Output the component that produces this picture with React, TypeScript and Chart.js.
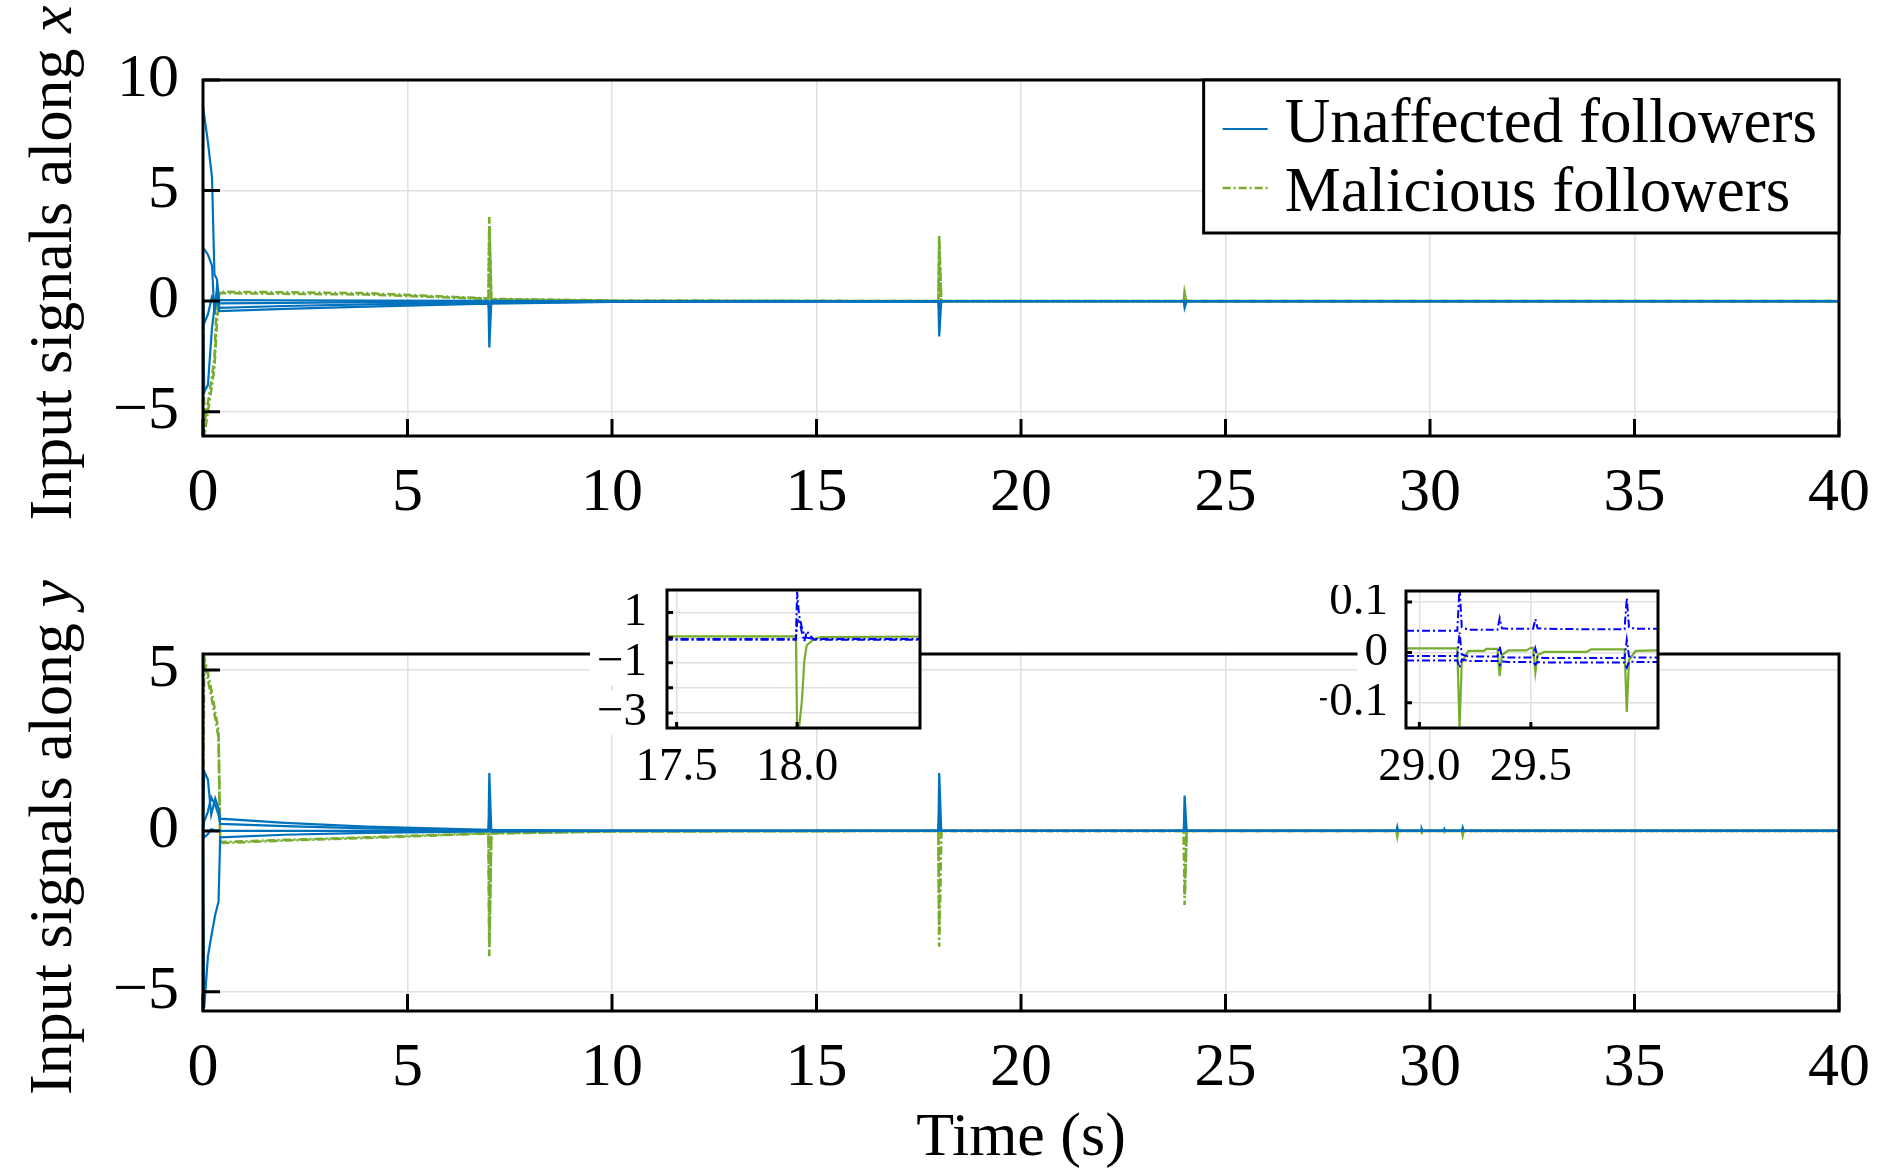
import React, { useEffect, useRef } from 'react';
import { Chart, registerables } from 'chart.js';

Chart.register(...registerables);

const SERIF = '"Liberation Serif", "Times New Roman", serif';
const BLUE = '#0072BD';
const GREEN = '#77AC30';
const INSET_BLUE = '#0000FF';
const GRID = '#e0e0e0';
const DASH_DOT = [8, 3, 2, 3];

// ---- top panel: input signals along x ----
const timeX = [0, 0.03, 0.12, 0.22, 0.28, 0.34, 0.4, 2, 4, 6.98, 7.0, 7.05, 10, 17.98, 18.0, 18.05, 23.98, 24.0, 24.05, 40];
const unaffectedX1 = [8.75, 8.4, 7.2, 5.6, 1.2, 1.0, -0.1, -0.08, -0.05, -0.03, -2.1, -0.03, -0.01, 0, -1.6, 0, 0, -0.3, 0, 0];
const unaffectedX2 = [2.3, 2.35, 2.1, 1.6, -0.6, 0.6, -0.3, -0.22, -0.15, -0.08, -0.3, -0.08, -0.02, 0, -0.2, 0, 0, 0, 0, 0];
const unaffectedX3 = [0, -4.1, -3.8, -1.2, -0.3, 0.2, -0.45, -0.35, -0.25, -0.12, -0.4, -0.12, -0.03, 0, -0.3, 0, 0, -0.1, 0, 0];
const unaffectedX4 = [0, -1.0, -0.6, 0.2, 0.0, -0.1, 0.05, 0.04, 0.02, 0.01, -0.5, 0.01, 0, 0, -0.4, 0, 0, 0, 0, 0];
const maliciousX1 = [0, -6.1, -5.0, -3.8, -3.0, -1.0, 0.42, 0.4, 0.36, 0.12, 3.8, 0.1, 0.03, 0, 3.0, 0, 0, 0.4, 0, 0];
const maliciousX2 = [0, -5.6, -4.6, -3.4, -2.6, 0.2, 0.36, 0.33, 0.3, 0.1, 3.4, 0.08, 0.02, 0, 2.6, 0, 0, 0.3, 0, 0];

// ---- bottom panel: input signals along y ----
const timeY = [0, 0.03, 0.12, 0.2, 0.3, 0.38, 0.42, 2, 4, 6.98, 7.0, 7.05, 10, 17.98, 18.0, 18.05, 23.98, 24.0, 24.05, 29.18, 29.2, 29.22, 29.78, 29.8, 29.82, 30.33, 30.35, 30.37, 30.78, 30.8, 30.82, 40];
const unaffectedY1 = [0, -5.5, -3.9, -3.3, -2.6, -2.2, -0.2, -0.12, -0.06, -0.02, 1.8, -0.02, 0, 0, 1.8, 0, 0, 1.1, 0, 0, 0.12, 0, 0, 0.06, 0, 0, 0.06, 0, 0, 0.1, 0, 0];
const unaffectedY2 = [0, 1.85, 1.6, 0.5, 1.0, 0.7, 0.38, 0.25, 0.13, 0.03, 0.5, 0.03, 0.01, 0, 0.6, 0, 0, 0.3, 0, 0, 0.05, 0, 0, 0.02, 0, 0, 0.02, 0, 0, 0.04, 0, 0];
const unaffectedY3 = [0, 0.3, 0.6, 1.05, 0.8, 0.5, 0.22, 0.15, 0.08, 0.02, 0.2, 0.02, 0, 0, 0.3, 0, 0, 0.1, 0, 0, 0.02, 0, 0, 0.01, 0, 0, 0.01, 0, 0, 0.02, 0, 0];
const unaffectedY4 = [0, -0.2, -0.1, 0.05, 0.02, 0, 0, 0, 0, 0, 0.1, 0, 0, 0, 0.1, 0, 0, 0, 0, 0, 0, 0, 0, 0, 0, 0, 0, 0, 0, 0, 0, 0];
const maliciousY1 = [5.5, 5.4, 4.9, 4.4, 3.7, 3.1, -0.38, -0.3, -0.22, -0.08, -3.9, -0.08, -0.02, 0, -3.6, 0, 0, -2.3, 0, 0, -0.15, 0, 0, -0.05, 0, 0, -0.04, 0, 0, -0.12, 0, 0];
const maliciousY2 = [0, 5.3, 4.7, 4.2, 3.5, 2.9, -0.35, -0.28, -0.2, -0.07, -3.5, -0.07, -0.02, 0, -3.2, 0, 0, -2.0, 0, 0, -0.1, 0, 0, -0.03, 0, 0, -0.03, 0, 0, -0.08, 0, 0];

// ---- inset around t = 18 s ----
const timeInset1 = [17.45, 17.995, 18.0, 18.008, 18.02, 18.03, 18.04, 18.07, 18.1, 18.55];
const inset1Green = [0.05, 0.05, -3.6, -3.6, -2.5, -0.9, -0.3, -0.05, 0.02, 0.05];
const inset1Blue1 = [-0.05, -0.05, 1.83, 0.9, 0.4, 0.1, 0.0, -0.05, -0.05, -0.05];
const inset1Blue2 = [-0.08, -0.08, 0.6, 0.75, 0.2, -0.15, 0.25, -0.08, -0.08, -0.08];

// ---- inset around t = 29.5 s ----
const timeInset2 = [28.94, 29.17, 29.18, 29.19, 29.22, 29.29, 29.3, 29.35, 29.36, 29.37, 29.4, 29.48, 29.5, 29.51, 29.52, 29.53, 29.56, 29.75, 29.77, 29.92, 29.93, 29.94, 29.97, 30.07];
const inset2Green = [0.008, 0.008, -0.15, -0.02, 0.003, 0.003, 0.007, 0.007, -0.047, -0.005, 0.004, 0.004, 0.009, 0.009, -0.04, -0.005, 0.001, 0.001, 0.006, 0.006, -0.118, -0.015, 0.003, 0.004];
const inset2Blue1 = [0.043, 0.043, 0.13, 0.05, 0.045, 0.045, 0.045, 0.045, 0.068, 0.048, 0.047, 0.047, 0.047, 0.047, 0.066, 0.048, 0.047, 0.046, 0.046, 0.046, 0.108, 0.05, 0.047, 0.047];
const inset2Blue2 = [-0.007, -0.007, 0.04, -0.004, -0.008, -0.008, -0.008, -0.008, 0.012, -0.009, -0.01, -0.01, -0.01, -0.01, 0.008, -0.01, -0.011, -0.011, -0.011, -0.011, 0.025, -0.008, -0.01, -0.01];
const inset2Blue3 = [-0.016, -0.016, -0.03, -0.014, -0.017, -0.017, -0.017, -0.017, -0.025, -0.018, -0.019, -0.019, -0.019, -0.019, -0.024, -0.019, -0.02, -0.02, -0.02, -0.02, -0.03, -0.018, -0.019, -0.019];

// tick values
const timeTicks = [0, 5, 10, 15, 20, 25, 30, 35, 40];
const topYTicks = [-5, 0, 5, 10];
const bottomYTicks = [-5, 0, 5];
const inset1XTicks = [17.5, 18.0];
const inset1YTicks = [-3, -2, -1, 0, 1];
const inset2XTicks = [29.0, 29.5];
const inset2YTicks = [-0.1, 0, 0.1];

const minus = (v: number | string) => String(v).replace('-', '\u2212');
const series = (t: number[], y: number[]) => t.map((x, i) => ({ x, y: y[i] }));
const setTicks = (vals: number[]) => (s: any) => { s.ticks = vals.map((value) => ({ value })); };

// white plot area, black box and inward tick marks
const framePlugin = {
  id: 'frame',
  beforeDraw(chart: any, _a: any, opts: any) {
    if (!opts.fill) return;
    const { left, top, width, height } = chart.chartArea;
    chart.ctx.save();
    chart.ctx.fillStyle = '#fff';
    chart.ctx.fillRect(left, top, width, height);
    chart.ctx.restore();
  },
  afterDatasetsDraw(chart: any, _a: any, opts: any) {
    const { left, top, right, bottom } = chart.chartArea;
    const ctx = chart.ctx;
    const len = opts.tickLength || 0;
    ctx.save();
    ctx.strokeStyle = '#000';
    ctx.lineWidth = 3;
    ctx.beginPath();
    chart.scales.x.ticks.forEach((tk: any) => {
      const px = chart.scales.x.getPixelForValue(tk.value);
      ctx.moveTo(px, bottom);
      ctx.lineTo(px, bottom - len);
    });
    chart.scales.y.ticks.forEach((tk: any) => {
      const py = chart.scales.y.getPixelForValue(tk.value);
      ctx.moveTo(left, py);
      ctx.lineTo(left + len, py);
    });
    ctx.stroke();
    ctx.strokeRect(left, top, right - left, bottom - top);
    ctx.restore();
  },
};

// rotated y title with italic last letter
const yTitlePlugin = {
  id: 'yTitle',
  afterDraw(chart: any, _a: any, opts: any) {
    if (!opts.text) return;
    const ctx = chart.ctx;
    const { top, bottom } = chart.chartArea;
    const normal = `62px ${SERIF}`;
    const italic = `italic 62px ${SERIF}`;
    ctx.save();
    ctx.translate(opts.x, (top + bottom) / 2 + opts.shift);
    ctx.rotate(-Math.PI / 2);
    ctx.fillStyle = '#000';
    ctx.textBaseline = 'alphabetic';
    ctx.font = normal;
    const w1 = ctx.measureText(opts.text).width;
    ctx.font = italic;
    const w2 = ctx.measureText(opts.italic).width;
    const x0 = -(w1 + w2) / 2;
    ctx.font = normal;
    ctx.fillText(opts.text, x0, 0);
    ctx.font = italic;
    ctx.fillText(opts.italic, x0 + w1, 0);
    ctx.restore();
  },
};

// boxed legend in the upper right corner
const boxLegendPlugin = {
  id: 'boxLegend',
  afterDraw(chart: any, _a: any, opts: any) {
    if (!opts.display) return;
    const ctx = chart.ctx;
    const { right, top } = chart.chartArea;
    const items: any[] = [];
    chart.data.datasets.forEach((ds: any) => {
      if (!items.find((it) => it.label === ds.label)) items.push(ds);
    });
    ctx.save();
    ctx.font = `63px ${SERIF}`;
    const textW = Math.max(...items.map((it) => ctx.measureText(it.label).width));
    const w = 81 + textW + 22;
    const h = 153;
    const left = right - w;
    ctx.fillStyle = '#fff';
    ctx.fillRect(left, top, w, h);
    ctx.strokeStyle = '#000';
    ctx.lineWidth = 3;
    ctx.strokeRect(left, top, w, h);
    items.forEach((it, i) => {
      const yLine = top + 49 + i * 59;
      ctx.beginPath();
      ctx.setLineDash(it.borderDash || []);
      ctx.strokeStyle = it.borderColor;
      ctx.lineWidth = it.borderWidth;
      ctx.moveTo(left + 19, yLine);
      ctx.lineTo(left + 64, yLine);
      ctx.stroke();
      ctx.setLineDash([]);
      ctx.fillStyle = '#000';
      ctx.textBaseline = 'alphabetic';
      ctx.fillText(it.label, left + 81, top + 62 + i * 69);
    });
    ctx.restore();
  },
};

function mainChart(canvas: HTMLCanvasElement, cfg: any) {
  const blues = cfg.blues.map((y: number[]) => ({
    label: 'Unaffected followers',
    data: series(cfg.time, y),
    borderColor: BLUE,
    borderWidth: 2.2,
    pointRadius: 0,
  }));
  const greens = cfg.greens.map((y: number[]) => ({
    label: 'Malicious followers',
    data: series(cfg.time, y),
    borderColor: GREEN,
    borderWidth: 2.6,
    borderDash: DASH_DOT,
    pointRadius: 0,
  }));
  return new Chart(canvas, {
    type: 'line',
    data: { datasets: [...blues, ...greens] },
    options: {
      animation: false,
      responsive: false,
      devicePixelRatio: 1,
      events: [],
      layout: { padding: { top: cfg.padTop, right: 51, left: 0, bottom: 0 } },
      plugins: {
        legend: { display: false },
        tooltip: { enabled: false },
        frame: { tickLength: 17 },
        yTitle: { text: 'Input signals along ', italic: cfg.axis, x: 71, shift: 5 },
        boxLegend: { display: cfg.legend },
      } as any,
      scales: {
        x: {
          type: 'linear',
          min: 0,
          max: 40,
          afterBuildTicks: setTicks(timeTicks),
          afterFit: (s: any) => { s.height = cfg.xHeight; s.paddingLeft = 0; s.paddingRight = 0; },
          grid: { color: GRID, lineWidth: 1.5, drawTicks: false },
          border: { display: false },
          ticks: { font: { family: SERIF, size: 62 }, color: '#000', padding: 21, maxRotation: 0, autoSkip: false },
          title: {
            display: !!cfg.xTitle,
            text: cfg.xTitle || '',
            color: '#000',
            font: { family: SERIF, size: 62, lineHeight: 1 },
            padding: { top: 0, bottom: 3 },
          },
        },
        y: {
          type: 'linear',
          min: cfg.yMin,
          max: cfg.yMax,
          afterBuildTicks: setTicks(cfg.yTicks),
          afterFit: (s: any) => { s.width = 203; s.paddingTop = 0; s.paddingBottom = 0; },
          grid: { color: GRID, lineWidth: 1.5, drawTicks: false },
          border: { display: false },
          ticks: { font: { family: SERIF, size: 62 }, color: '#000', padding: 24, callback: (v: any) => minus(v) },
        },
      },
    },
    plugins: [framePlugin, yTitlePlugin, boxLegendPlugin],
  });
}

function insetChart(canvas: HTMLCanvasElement, cfg: any) {
  const datasets = [
    ...cfg.blues.map((y: number[]) => ({
      data: series(cfg.time, y),
      borderColor: INSET_BLUE,
      borderWidth: 2,
      borderDash: DASH_DOT,
      pointRadius: 0,
    })),
    {
      data: series(cfg.time, cfg.green),
      borderColor: GREEN,
      borderWidth: 2.2,
      pointRadius: 0,
    },
  ];
  return new Chart(canvas, {
    type: 'line',
    data: { datasets },
    options: {
      animation: false,
      responsive: false,
      devicePixelRatio: 1,
      events: [],
      layout: { padding: { top: cfg.padTop, right: 5, left: 0, bottom: 0 } },
      plugins: {
        legend: { display: false },
        tooltip: { enabled: false },
        frame: { fill: true, tickLength: 6 },
      } as any,
      scales: {
        x: {
          type: 'linear',
          min: cfg.xMin,
          max: cfg.xMax,
          afterBuildTicks: setTicks(cfg.xTicks),
          afterFit: (s: any) => { s.height = 72; s.paddingLeft = 0; s.paddingRight = 0; },
          grid: { color: GRID, lineWidth: 1.5, drawTicks: false },
          border: { display: false },
          ticks: {
            font: { family: SERIF, size: 47 },
            color: '#000',
            padding: 11,
            maxRotation: 0,
            autoSkip: false,
            callback: (v: any) => Number(v).toFixed(1),
          },
        },
        y: {
          type: 'linear',
          min: cfg.yMin,
          max: cfg.yMax,
          afterBuildTicks: setTicks(cfg.yTicks),
          afterFit: (s: any) => { s.width = cfg.yWidth; s.paddingTop = 0; s.paddingBottom = 0; },
          grid: { color: GRID, lineWidth: 1.5, drawTicks: false },
          border: { display: false },
          ticks: {
            font: { family: SERIF, size: 47 },
            color: '#000',
            padding: cfg.yPad,
            autoSkip: false,
            showLabelBackdrop: (c: any) => !!(c.tick && c.tick.label),
            backdropColor: '#fff',
            backdropPadding: { left: 7, right: cfg.yPad, top: -6, bottom: -6 },
            callback: cfg.yLabel,
          },
        },
      },
    },
    plugins: [framePlugin],
  });
}

export default function App() {
  const topRef = useRef<HTMLCanvasElement>(null);
  const bottomRef = useRef<HTMLCanvasElement>(null);
  const inset1Ref = useRef<HTMLCanvasElement>(null);
  const inset2Ref = useRef<HTMLCanvasElement>(null);

  useEffect(() => {
    if (!topRef.current || !bottomRef.current || !inset1Ref.current || !inset2Ref.current) return;
    const charts = [
      mainChart(topRef.current, {
        time: timeX,
        blues: [unaffectedX1, unaffectedX2, unaffectedX3, unaffectedX4],
        greens: [maliciousX1, maliciousX2],
        yMin: -6.1,
        yMax: 10,
        yTicks: topYTicks,
        padTop: 80,
        xHeight: 124,
        axis: 'x',
        legend: true,
      }),
      mainChart(bottomRef.current, {
        time: timeY,
        blues: [unaffectedY1, unaffectedY2, unaffectedY3, unaffectedY4],
        greens: [maliciousY1, maliciousY2],
        yMin: -5.6,
        yMax: 5.5,
        yTicks: bottomYTicks,
        padTop: 94,
        xHeight: 162,
        axis: 'y',
        legend: false,
        xTitle: 'Time (s)',
      }),
      insetChart(inset1Ref.current, {
        time: timeInset1,
        blues: [inset1Blue1, inset1Blue2],
        green: inset1Green,
        xMin: 17.46,
        xMax: 18.51,
        yMin: -3.6,
        yMax: 1.9,
        xTicks: inset1XTicks,
        yTicks: inset1YTicks,
        padTop: 5,
        yWidth: 87,
        yPad: 20,
        yLabel: (v: any) => (Math.abs(Number(v)) % 2 === 1 ? minus(v) : ''),
      }),
      insetChart(inset2Ref.current, {
        time: timeInset2,
        blues: [inset2Blue1, inset2Blue2, inset2Blue3],
        green: inset2Green,
        xMin: 28.94,
        xMax: 30.07,
        yMin: -0.15,
        yMax: 0.122,
        xTicks: inset2XTicks,
        yTicks: inset2YTicks,
        padTop: 6,
        yWidth: 86,
        yPad: 18,
        yLabel: (v: any) => (Number(v) === 0 ? '0' : minus(Number(v).toFixed(1))),
      }),
    ];
    return () => charts.forEach((c) => c.destroy());
  }, []);

  const abs = (left: number, top: number, w: number, h: number): React.CSSProperties => ({
    position: 'absolute', left, top, width: w, height: h,
  });

  return (
    <div style={{ position: 'fixed', left: 0, top: 0, width: 1890, height: 1173, background: '#fff' }}>
      <canvas ref={topRef} width={1890} height={560} style={abs(0, 0, 1890, 560)} />
      <canvas ref={bottomRef} width={1890} height={613} style={abs(0, 560, 1890, 613)} />
      <canvas ref={inset1Ref} width={345} height={215} style={abs(580, 585, 345, 215)} />
      <canvas ref={inset2Ref} width={343} height={215} style={abs(1320, 585, 343, 215)} />
    </div>
  );
}
